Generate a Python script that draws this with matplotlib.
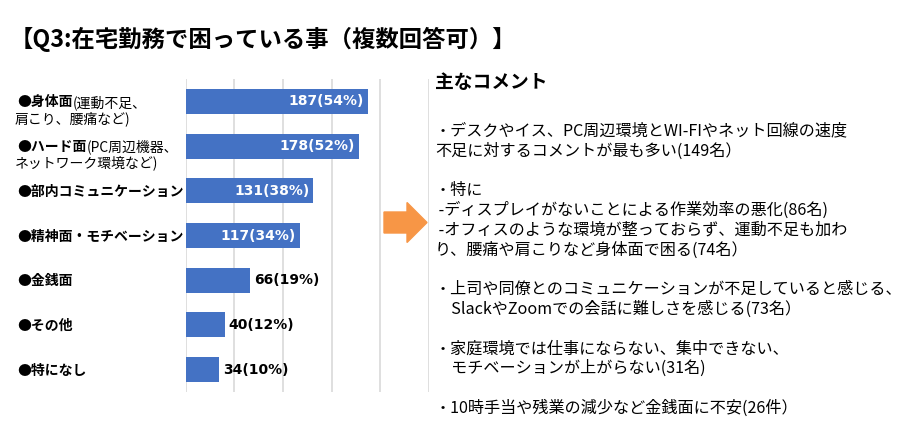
import matplotlib
matplotlib.use('Agg')
import matplotlib.pyplot as plt
from matplotlib.patches import FancyArrow

plt.rcParams['font.family'] = ['Noto Sans CJK JP', 'DejaVu Sans']

# Data
label_bold = ['身体面', 'ハード面', '部内コミュニケーション', '精神面・モチベーション',
              '金銭面', 'その他', '特になし']
label_note = ['(運動不足、', '(PC周辺機器、', '', '', '', '', '']
label_note2 = ['肩こり、腰痛など)', 'ネットワーク環境など)', '', '', '', '', '']
counts = [187, 178, 131, 117, 66, 40, 34]
percents = [54, 52, 38, 34, 19, 12, 10]

comment_title = '主なコメント'
comment_lines = [
    '・デスクやイス、PC周辺環境とWI-FIやネット回線の速度',
    '不足に対するコメントが最も多い(149名）',
    '',
    '・特に',
    ' -ディスプレイがないことによる作業効率の悪化(86名)',
    ' -オフィスのような環境が整っておらず、運動不足も加わ',
    'り、腰痛や肩こりなど身体面で困る(74名）',
    '',
    '・上司や同僚とのコミュニケーションが不足していると感じる、',
    '　SlackやZoomでの会話に難しさを感じる(73名）',
    '',
    '・家庭環境では仕事にならない、集中できない、',
    '　モチベーションが上がらない(31名)',
    '',
    '・10時手当や残業の減少など金銭面に不安(26件）',
]

W, H = 906, 446
fig = plt.figure(figsize=(W / 100, H / 100), dpi=100)
fig.patch.set_facecolor('white')

ax = fig.add_axes([185.7 / W, 1 - 392 / H, 243.3 / W, 313 / H])
y = list(range(len(counts)))
ax.barh(y, counts, height=0.56, color='#4472C4', zorder=2)
ax.set_xlim(0, 250)
ax.set_ylim(len(counts) - 0.5, -0.5)
ax.set_xticks(range(0, 251, 50))
ax.set_yticks([])
ax.tick_params(axis='x', length=0, labelbottom=False)
ax.grid(axis='x', color='#D9D9D9', linewidth=1.2, zorder=0)
for s in ax.spines.values():
    s.set_visible(False)

# bar value labels
for i, (c, p) in enumerate(zip(counts, percents)):
    txt = f'{c}({p}%)'
    if c >= 100:
        ax.annotate(txt, xy=(c, i), xytext=(-4, 0), textcoords='offset pixels',
                    ha='right', va='center', color='white', fontsize=10,
                    fontweight='bold', family='DejaVu Sans', zorder=3)
    else:
        ax.annotate(txt, xy=(c, i), xytext=(4, 0), textcoords='offset pixels',
                    ha='left', va='center', color='black', fontsize=10,
                    fontweight='bold', family='DejaVu Sans', zorder=3)

# category labels
for i in range(len(label_bold)):
    t = ax.annotate('●' + label_bold[i], xy=(17 / W, i), xycoords=('figure fraction', 'data'),
                    xytext=(0, -1), textcoords='offset pixels',
                    ha='left', va='center', fontsize=10, fontweight='bold',
                    annotation_clip=False)
    if label_note[i]:
        ax.annotate(label_note[i], xy=(1, 0.5), xycoords=t, ha='left', va='center',
                    fontsize=10, annotation_clip=False)
    if label_note2[i]:
        ax.annotate(label_note2[i], xy=(15 / W, i), xycoords=('figure fraction', 'data'),
                    xytext=(0, -17), textcoords='offset pixels',
                    ha='left', va='center', fontsize=10, annotation_clip=False)

# title
fig.text(10 / W, 1 - 39 / H, '【Q3:在宅勤務で困っている事（複数回答可）】',
         ha='left', va='center', fontsize=16.8, fontweight='bold')

# arrow
fig.patches.append(FancyArrow(384 / W, 1 - 222.5 / H, 43 / W, 0, width=21 / H,
                              head_width=40 / H, head_length=20 / W,
                              length_includes_head=True, color='#F79646',
                              transform=fig.transFigure, figure=fig))

# comments
fig.text(435 / W, 1 - 82 / H, comment_title, ha='left', va='center',
         fontsize=13.5, fontweight='bold')
for k, line in enumerate(comment_lines):
    if line:
        fig.text(435 / W, 1 - (131 + 19.8 * k) / H, line, ha='left', va='center',
                 fontsize=11.6, color='black')

fig.savefig('out.png', dpi=100, facecolor='white')
